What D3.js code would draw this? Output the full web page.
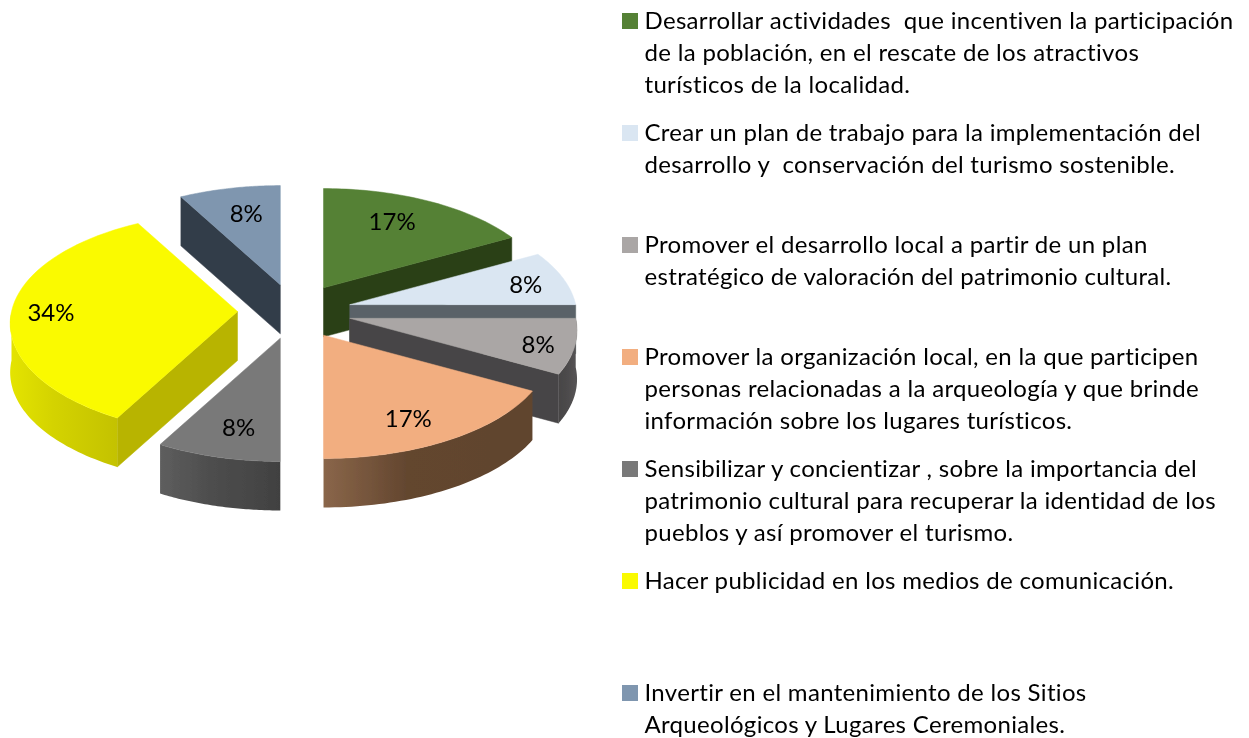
<!DOCTYPE html>
<html>
<head>
<meta charset="utf-8">
<script src="https://cdn.jsdelivr.net/npm/d3@7"></script>
<style>
  html, body { margin: 0; background: #fff; }
  svg { display: block; }
  text { font-family: Lato, "Open Sans", sans-serif; fill: #000; white-space: pre; }
</style>
</head>
<body>
<div id="chart"></div>
<script>
// values clockwise from 12 o'clock
var percents = [17, 8, 8, 17, 8, 34, 8];
var legendLines = [
  ['Desarrollar actividades  que incentiven la participación', 'de la población, en el rescate de los atractivos', 'turísticos de la localidad.'],
  ['Crear un plan de trabajo para la implementación del', 'desarrollo y  conservación del turismo sostenible.'],
  ['Promover el desarrollo local a partir de un plan', 'estratégico de valoración del patrimonio cultural.'],
  ['Promover la organización local, en la que participen', 'personas relacionadas a la arqueología y que brinde', 'información sobre los lugares turísticos.'],
  ['Sensibilizar y concientizar , sobre la importancia del', 'patrimonio cultural para recuperar la identidad de los', 'pueblos y así promover el turismo.'],
  ['Hacer publicidad en los medios de comunicación.'],
  ['Invertir en el mantenimiento de los Sitios', 'Arqueológicos y Lugares Ceremoniales.']
];

// styles, same order as percents
var topColors = ['#558135', '#dae6f2', '#aaa6a5', '#f2ae80', '#797979', '#fafa00', '#7f96af'];
var faceColors = ['#2a4016', '#5a6268', '#474546', '#63462f', '#444444', '#b8b400', '#333d49'];
var wallFrom = ['#2a4016', '#5a6268', '#474546', '#8a664a', '#5e5e5e', '#e4e400', '#333d49'];
var wallMid = ['#2a4016', '#5a6268', '#4c4a4b', '#63462f', '#4e4e4e', '#d4d300', '#333d49'];
var wallTo = ['#2a4016', '#5a6268', '#565455', '#60442e', '#414141', '#c4c200', '#333d49'];

// label placement, radius along the slice middle then a small nudge
var labelRadius = [0.72, 0.76, 0.92, 0.72, 0.72, 0.83, 0.73];
var labelDx = [-9, 13, -18, -4, 2, 1, 4];
var labelDy = [-3, 0, 0, 10, 6, 1, 1];

var width = 1249, height = 738;
var cx = 294.5, cy = 311.5;
var rx = 226, ry = 110, depth = 49;
var explodeX = 57, explodeY = 27.5;
var persp = 0.108;

var svg = d3.select('#chart').append('svg')
  .attr('width', width)
  .attr('height', height);
var defs = svg.append('defs');

// the source is a soft, scaled up bitmap
defs.append('filter')
  .attr('id', 'soft')
  .attr('x', 0).attr('y', 0).attr('width', 1).attr('height', 1)
  .append('feGaussianBlur')
  .attr('stdDeviation', 0.4);

var root = svg.append('g').attr('filter', 'url(#soft)');
root.append('rect').attr('width', width).attr('height', height).attr('fill', '#fff');

var slices = d3.pie().sort(null).value(function(d){ return d; })(percents);

slices.forEach(function(d){
  var mid = (d.startAngle + d.endAngle) / 2;
  d.mid = mid;
  d.ox = cx + explodeX * Math.sin(mid);
  d.oy = cy - explodeY * Math.cos(mid);
});

// point on the rim of a slice, r=1 is the outer edge
function project(d, angle, r, drop){
  var py = -Math.cos(angle) * r;
  var s = 1 / (1 - persp * py);
  return [
    d.ox + rx * Math.sin(angle) * r * s,
    d.oy + ry * py * s + (drop || 0)
  ];
}

function rim(d, a0, a1, drop){
  var n = 48;
  return d3.range(n + 1).map(function(i){
    return project(d, a0 + (a1 - a0) * i / n, 1, drop);
  });
}

var line = d3.line();

function drawFace(g, d, angle, i){
  g.append('path')
    .attr('d', line([
      [d.ox, d.oy],
      project(d, angle, 1),
      project(d, angle, 1, depth),
      [d.ox, d.oy + depth]
    ]) + 'Z')
    .attr('fill', faceColors[i])
    .attr('stroke', faceColors[i])
    .attr('stroke-width', 0.5);
}

// back to front
var order = d3.range(slices.length).sort(function(a, b){
  return d3.ascending(-Math.cos(slices[a].mid), -Math.cos(slices[b].mid));
});

order.forEach(function(i){
  var d = slices[i];
  var g = root.append('g').attr('class', 'slice');

  if (Math.sin(d.startAngle) < -1e-6) drawFace(g, d, d.startAngle, i);
  if (Math.sin(d.endAngle) > 1e-6) drawFace(g, d, d.endAngle, i);

  // only the front half of the rim shows
  var a0 = Math.max(d.startAngle, Math.PI / 2);
  var a1 = Math.min(d.endAngle, Math.PI * 1.5);
  if (a1 > a0) {
    var grad = defs.append('linearGradient').attr('id', 'wall' + i);
    grad.append('stop').attr('offset', 0).attr('stop-color', wallFrom[i]);
    grad.append('stop').attr('offset', 0.4).attr('stop-color', wallMid[i]);
    grad.append('stop').attr('offset', 1).attr('stop-color', wallTo[i]);
    g.append('path')
      .attr('d', line(rim(d, a0, a1, 0).concat(rim(d, a1, a0, depth))) + 'Z')
      .attr('fill', 'url(#wall' + i + ')');
  }

  var top = [[d.ox, d.oy]].concat(rim(d, d.startAngle, d.endAngle, 0));
  g.append('path')
    .attr('d', line(top) + 'Z')
    .attr('fill', topColors[i])
    .attr('stroke', topColors[i])
    .attr('stroke-width', 0.5);
});

// labels on top of everything
root.append('g').selectAll('text')
  .data(slices)
  .enter()
  .append('text')
  .attr('x', function(d, i){ return project(d, d.mid, labelRadius[i])[0] + labelDx[i]; })
  .attr('y', function(d, i){ return project(d, d.mid, labelRadius[i])[1] + labelDy[i]; })
  .attr('dy', '0.36em')
  .attr('text-anchor', 'middle')
  .attr('font-size', '24px')
  .text(function(d){ return d.data + '%'; });

// legend
var legendY = d3.scaleLinear().domain([0, 6]).range([21, 693]);
var lineStep = 32;

var items = root.append('g').selectAll('g')
  .data(legendLines)
  .enter()
  .append('g')
  .attr('transform', function(d, i){ return 'translate(622,' + legendY(i) + ')'; });

items.append('rect')
  .attr('x', 0)
  .attr('y', -8)
  .attr('width', 16)
  .attr('height', 16)
  .attr('fill', function(d, i){ return topColors[i]; });

items.selectAll('text')
  .data(function(d){ return d; })
  .enter()
  .append('text')
  .attr('x', 22.5)
  .attr('y', function(d, i){ return i * lineStep; })
  .attr('dy', '0.34em')
  .attr('font-size', '24px')
  .attr('letter-spacing', '0.32px')
  .text(function(d){ return d; });
</script>
</body>
</html>
